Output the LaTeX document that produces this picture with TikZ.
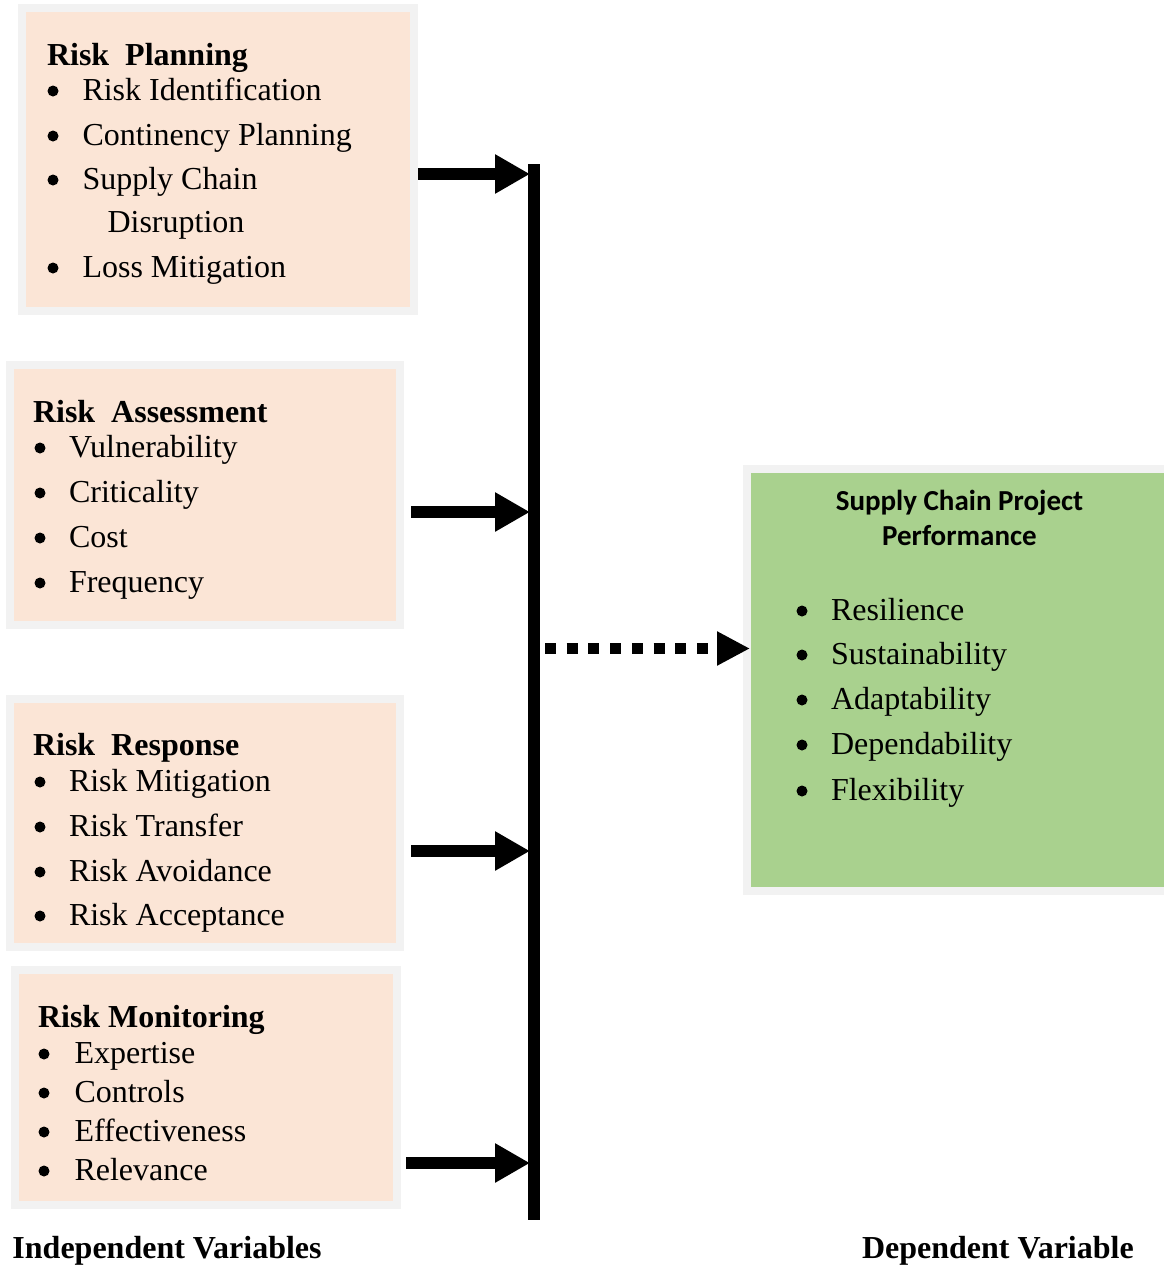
\documentclass[tikz,border=0pt]{standalone}
\usepackage{fontspec}
\setmainfont{Liberation Serif}
\newfontfamily\calfont{Carlito}
\usetikzlibrary{arrows.meta}
\definecolor{peach}{HTML}{FBE5D6}
\definecolor{bordgray}{HTML}{F2F2F2}
\definecolor{greenbox}{HTML}{A9D18E}
\tikzset{
  txt/.style={inner sep=0pt, outer sep=0pt, font=\fontsize{32}{38}\selectfont},
  ttl/.style={txt, anchor=base west, font=\fontsize{32}{38}\selectfont\bfseries},
  bul/.style={circle, fill=black, inner sep=0pt, minimum size=11pt},
  riskbox/.style={draw=bordgray, line width=8pt, fill=peach, inner sep=0pt, rectangle},
  bigarrow/.style={line width=12pt, -{Triangle[length=35pt,width=37pt]}},
  dotarrow/.style={line width=11pt, dash pattern=on 11pt off 10.7pt, -{Triangle[length=33pt,width=32pt]}},
}
\newcommand{\itm}[5]{%
  \node[bul] (#1b) at (#2,#4-9.5) {};
  \node[txt, anchor=base west] (#1) at (#3,#4) {#5};}
\begin{document}
\begin{tikzpicture}[x=1pt,y=-1pt]
\useasboundingbox (0,0) rectangle (1164,1266);
% boxes
\node[riskbox, minimum width=392pt, minimum height=303pt] (box1) at (218,159.5) {};
\node[riskbox, minimum width=390pt, minimum height=260pt] (box2) at (205,495) {};
\node[riskbox, minimum width=390pt, minimum height=248pt] (box3) at (205,823) {};
\node[riskbox, minimum width=382.5pt, minimum height=235pt] (box4) at (206,1087.5) {};
% green box
\node[fill=greenbox, inner sep=0pt, outer sep=0pt, minimum width=413pt, minimum height=414pt] (perf) at (957.5,680) {};
\draw[bordgray, line width=8pt, line join=miter] (1164,469) -- (747,469) -- (747,891) -- (1164,891);
% box 1 text
\node[ttl] (t1) at (47,65) {Risk\ \ Planning};
\itm{a1}{53}{82.5}{100.5}{Risk Identification}
\itm{a2}{53}{82.5}{145.5}{Continency Planning}
\itm{a3}{53}{82.5}{189.5}{Supply Chain}
\node[txt, anchor=base west] (a3x) at (107.5,232.5) {Disruption};
\itm{a4}{53}{82.5}{277.5}{Loss Mitigation}
% box 2 text
\node[ttl] (t2) at (33,422.5) {Risk\ \ Assessment};
\itm{b1}{40}{69}{457.5}{Vulnerability}
\itm{b2}{40}{69}{502.5}{Criticality}
\itm{b3}{40}{69}{547.5}{Cost}
\itm{b4}{40}{69}{592.5}{Frequency}
% box 3 text
\node[ttl] (t3) at (33,755) {Risk\ \ Response};
\itm{c1}{40}{69}{791.5}{Risk Mitigation}
\itm{c2}{40}{69}{836.5}{Risk Transfer}
\itm{c3}{40}{69}{881.5}{Risk Avoidance}
\itm{c4}{40}{69}{925.5}{Risk Acceptance}
% box 4 text
\node[ttl] (t4) at (38,1027.5) {Risk Monitoring};
\itm{d1}{44}{74.5}{1063.5}{Expertise}
\itm{d2}{44}{74.5}{1102.5}{Controls}
\itm{d3}{44}{74.5}{1141.5}{Effectiveness}
\itm{d4}{44}{74.5}{1180.5}{Relevance}
% green text
\node[inner sep=0pt, anchor=base, font=\fontsize{29}{35}\selectfont\calfont\bfseries] (g0) at (959.5,510.5) {Supply Chain Project};
\node[inner sep=0pt, anchor=base, font=\fontsize{29}{35}\selectfont\calfont\bfseries] (g00) at (959.5,545.5) {Performance};
\itm{g1}{802}{831}{620.5}{Resilience}
\itm{g2}{802}{831}{664.5}{Sustainability}
\itm{g3}{802}{831}{709.5}{Adaptability}
\itm{g4}{802}{831}{754.5}{Dependability}
\itm{g5}{802}{831}{800.5}{Flexibility}
% bar
\coordinate (bartop) at (534,164);
\coordinate (barbot) at (534,1220);
\draw[line width=12pt] (bartop) -- (barbot);
% arrows
\coordinate (e1) at (530,174);
\coordinate (e2) at (530,512);
\coordinate (e3) at (530,851);
\coordinate (e4) at (530,1163);
\draw[bigarrow] (box1.east |- e1) -- (e1);
\draw[bigarrow] ([xshift=7pt]box2.east |- e2) -- (e2);
\draw[bigarrow] ([xshift=7pt]box3.east |- e3) -- (e3);
\draw[bigarrow] ([xshift=5pt]box4.east |- e4) -- (e4);
\coordinate (d0) at (545,648.5);
\draw[dotarrow] (d0) -- ([xshift=-1pt]perf.west |- d0);
% labels
\node[ttl] (indep) at (12.5,1258) {Independent Variables};
\node[ttl] (dep) at (862,1258) {Dependent Variable};
\end{tikzpicture}
\end{document}
